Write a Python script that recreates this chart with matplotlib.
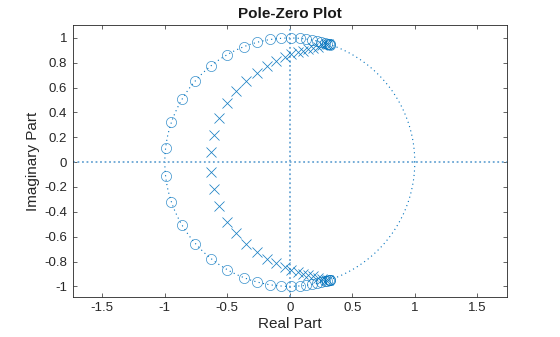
import numpy as np
import matplotlib.pyplot as plt

plt.rcParams['font.family'] = ['Liberation Sans', 'DejaVu Sans']

# upper-half zeros and poles (real, imag); the lower half is the conjugate set
zero_re = [-0.994, -0.952, -0.861, -0.755, -0.629, -0.501, -0.368, -0.261, -0.155, -0.067,
           0.013, 0.080, 0.133, 0.181, 0.221, 0.253, 0.280, 0.298, 0.310, 0.318, 0.324]
zero_im = [0.110, 0.320, 0.507, 0.656, 0.778, 0.866, 0.930, 0.965, 0.988, 0.998,
           1.000, 0.997, 0.991, 0.983, 0.975, 0.967, 0.960, 0.955, 0.951, 0.948, 0.946]
pole_re = [-0.632, -0.608, -0.565, -0.499, -0.427, -0.347, -0.261, -0.179, -0.107, -0.040,
           0.013, 0.067, 0.107, 0.147, 0.187, 0.227, 0.261, 0.290, 0.305]
pole_im = [0.080, 0.215, 0.352, 0.478, 0.569, 0.657, 0.721, 0.778, 0.815, 0.845,
           0.871, 0.885, 0.898, 0.909, 0.920, 0.930, 0.940, 0.948, 0.950]

z = np.array(zero_re) + 1j * np.array(zero_im)
p = np.array(pole_re) + 1j * np.array(pole_im)
z = np.concatenate([z, z.conj()])
p = np.concatenate([p, p.conj()])

blue = '#0072BD'

fig = plt.figure(figsize=(5.6, 3.37), dpi=100)
ax = fig.add_axes([0.130, 0.119, 0.775, 0.807])

# unit circle and the two axes
t = np.linspace(0, 2 * np.pi, 400)
ax.plot(np.cos(t), np.sin(t), color=blue, lw=0.8, ls=(0, (1, 3)))
ax.axhline(0, color='#6aa6d4', lw=1.3, ls=(0, (1, 1.5)))
ax.axvline(0, color='#6aa6d4', lw=1.3, ls=(0, (1, 1.5)))

ax.plot(z.real, z.imag, 'o', mfc='none', mec=blue, ms=7.3, mew=0.5, alpha=0.8)
ax.plot(p.real, p.imag, 'x', color=blue, ms=6.5, mew=0.55, alpha=0.9)

ax.set_xlim(-1.736, 1.736)
ax.set_ylim(-1.085, 1.105)
ax.set_xticks([-1.5, -1, -0.5, 0, 0.5, 1, 1.5])
ax.set_xticklabels(['-1.5', '-1', '-0.5', '0', '0.5', '1', '1.5'])
ax.set_yticks(np.arange(-1, 1.01, 0.2))
ax.set_yticklabels(['-1', '-0.8', '-0.6', '-0.4', '-0.2', '0', '0.2', '0.4', '0.6', '0.8', '1'])
ax.tick_params(direction='in', top=True, right=True, length=3, width=0.5,
               labelsize=9.5, colors='#262626', pad=4)
for s in ax.spines.values():
    s.set_linewidth(0.6)
    s.set_color('#262626')

ax.set_xlabel('Real Part', fontsize=11, color='#262626', labelpad=2)
ax.set_ylabel('Imaginary Part', fontsize=11, color='#262626', labelpad=3)
ax.set_title('Pole-Zero Plot', fontsize=11, fontweight='bold', color='#1a1a1a', pad=5)

fig.savefig('out.png', dpi=100)
